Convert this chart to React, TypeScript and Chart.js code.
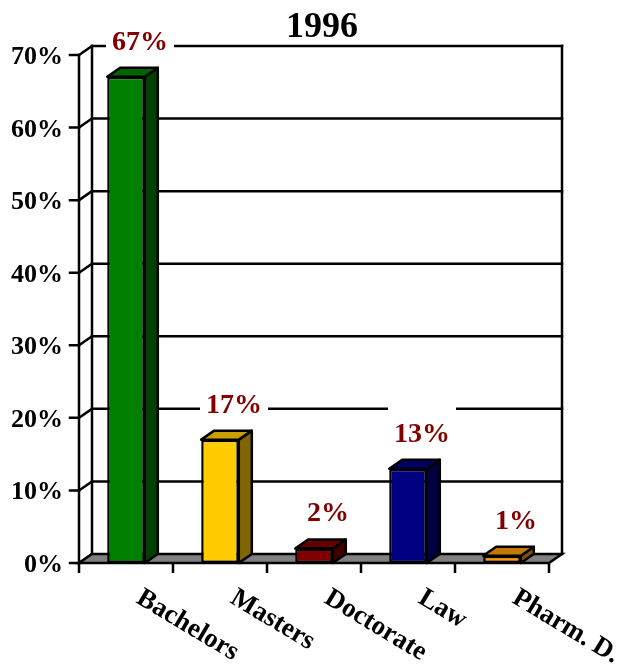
import React, { useEffect, useRef } from "react";
import { Chart, registerables } from "chart.js";

Chart.register(...registerables);

const titleText = "1996";
const categories = ["Bachelors", "Masters", "Doctorate", "Law", "Pharm. D."];
const values = [67, 17, 2, 13, 1];
const valueLabels = ["67%", "17%", "2%", "13%", "1%"];
const yTicks = [0, 10, 20, 30, 40, 50, 60, 70];
const yTickLabels = ["0%", "10%", "20%", "30%", "40%", "50%", "60%", "70%"];
const frontColors = ["#008000", "#FFCC00", "#800000", "#000080", "#FF9900"];
const topColors = ["#006400", "#C9A000", "#600000", "#000066", "#C47A00"];
const sideColors = ["#004000", "#806600", "#400000", "#000040", "#805000"];

const DX = 13;
const DY = 9;
const FONT = '"Liberation Serif", "Times New Roman", serif';
const LW = 2.5;

const threeD = {
  id: "threeD",
  beforeDatasetsDraw(chart: any) {
    const { ctx, chartArea: a, scales } = chart;
    const ys = scales.y;
    ctx.save();
    ctx.lineWidth = LW;
    ctx.strokeStyle = "#000";
    ctx.lineCap = "square";
    yTicks.forEach((v) => {
      const yf = ys.getPixelForValue(v);
      const yb = yf - DY;
      ctx.beginPath();
      if (v > 0) {
        ctx.moveTo(a.left + DX, yb);
        ctx.lineTo(a.right + DX, yb);
      }
      ctx.moveTo(a.left, yf);
      ctx.lineTo(a.left + DX, yb);
      ctx.moveTo(a.left - 9, yf);
      ctx.lineTo(a.left, yf);
      ctx.stroke();
    });
    ctx.beginPath();
    ctx.moveTo(a.left, a.top);
    ctx.lineTo(a.left, a.bottom);
    ctx.moveTo(a.left + DX, a.top - DY);
    ctx.lineTo(a.left + DX, a.bottom - DY);
    ctx.moveTo(a.right + DX, a.top - DY);
    ctx.lineTo(a.right + DX, a.bottom - DY);
    ctx.stroke();
    ctx.lineCap = "butt";
    ctx.lineJoin = "miter";
    ctx.beginPath();
    ctx.moveTo(a.left, a.bottom);
    ctx.lineTo(a.right, a.bottom);
    ctx.lineTo(a.right + DX, a.bottom - DY);
    ctx.lineTo(a.left + DX, a.bottom - DY);
    ctx.closePath();
    ctx.fillStyle = "#808080";
    ctx.fill();
    ctx.stroke();
    const n = categories.length;
    ctx.beginPath();
    for (let i = 0; i <= n; i++) {
      const x = a.left + (i * (a.right - a.left)) / n;
      ctx.moveTo(x, a.bottom);
      ctx.lineTo(x, a.bottom + 10);
    }
    ctx.stroke();
    ctx.fillStyle = "#000";
    ctx.font = `bold 26px ${FONT}`;
    ctx.textAlign = "right";
    ctx.textBaseline = "alphabetic";
    yTicks.forEach((v, i) => {
      const yf = ys.getPixelForValue(v);
      ctx.fillText(yTickLabels[i], a.left - 16, yf + 9);
    });
    ctx.restore();
  },
  afterDatasetsDraw(chart: any) {
    const { ctx, chartArea: a } = chart;
    const meta = chart.getDatasetMeta(0);
    ctx.save();
    ctx.lineWidth = LW;
    ctx.strokeStyle = "#000";
    ctx.lineJoin = "round";
    meta.data.forEach((el: any, i: number) => {
      const { x, y, base, width } = el.getProps(["x", "y", "base", "width"], true);
      const l = x - width / 2;
      const r = x + width / 2;
      ctx.beginPath();
      ctx.moveTo(r, y);
      ctx.lineTo(r + DX, y - DY);
      ctx.lineTo(r + DX, base - DY);
      ctx.lineTo(r, base);
      ctx.closePath();
      ctx.fillStyle = sideColors[i];
      ctx.fill();
      ctx.stroke();
      ctx.beginPath();
      ctx.moveTo(l, y);
      ctx.lineTo(l + DX, y - DY);
      ctx.lineTo(r + DX, y - DY);
      ctx.lineTo(r, y);
      ctx.closePath();
      ctx.fillStyle = topColors[i];
      ctx.fill();
      ctx.stroke();
    });
    ctx.font = `bold 28px ${FONT}`;
    ctx.textAlign = "center";
    ctx.textBaseline = "alphabetic";
    meta.data.forEach((el: any, i: number) => {
      const { x, y } = el.getProps(["x", "y"], true);
      const cx = x + 14;
      const by = y - 27;
      const w = ctx.measureText(valueLabels[i]).width;
      ctx.fillStyle = "#fff";
      ctx.fillRect(cx - w / 2 - 6, by - 37, w + 12, 42);
      ctx.fillStyle = "#800000";
      ctx.fillText(valueLabels[i], cx, by);
    });
    ctx.fillStyle = "#000";
    ctx.font = `bold 27px ${FONT}`;
    ctx.textAlign = "left";
    const xs = chart.scales.x;
    categories.forEach((c, i) => {
      const cx = xs.getPixelForValue(i);
      ctx.save();
      ctx.translate(cx + 9, a.bottom + 39);
      ctx.rotate((31 * Math.PI) / 180);
      ctx.fillText(c, 0, 0);
      ctx.restore();
    });
    ctx.font = `bold 36px ${FONT}`;
    ctx.textAlign = "center";
    ctx.fillText(titleText, 322, 37);
    ctx.restore();
  },
};

export default function App() {
  const ref = useRef<HTMLCanvasElement | null>(null);
  useEffect(() => {
    if (!ref.current) return;
    const chart = new Chart(ref.current, {
      type: "bar",
      data: {
        labels: categories,
        datasets: [
          {
            data: values,
            backgroundColor: frontColors,
            borderColor: "#000",
            borderWidth: 2.5,
            borderSkipped: false,
            barPercentage: 0.4,
            categoryPercentage: 1,
          },
        ],
      },
      options: {
        animation: false,
        responsive: false,
        devicePixelRatio: 1,
        layout: { padding: { left: 79, right: 68, top: 55, bottom: 102 } },
        plugins: { legend: { display: false }, tooltip: { enabled: false }, title: { display: false } },
        scales: {
          x: { display: false },
          y: { display: false, min: 0, max: 70 },
        },
      },
      plugins: [threeD],
    });
    return () => chart.destroy();
  }, []);
  return (
    <div style={{ position: "absolute", left: 0, top: 0, width: 617, height: 665, background: "#fff" }}>
      <canvas ref={ref} width={617} height={665} style={{ display: "block" }} />
    </div>
  );
}
